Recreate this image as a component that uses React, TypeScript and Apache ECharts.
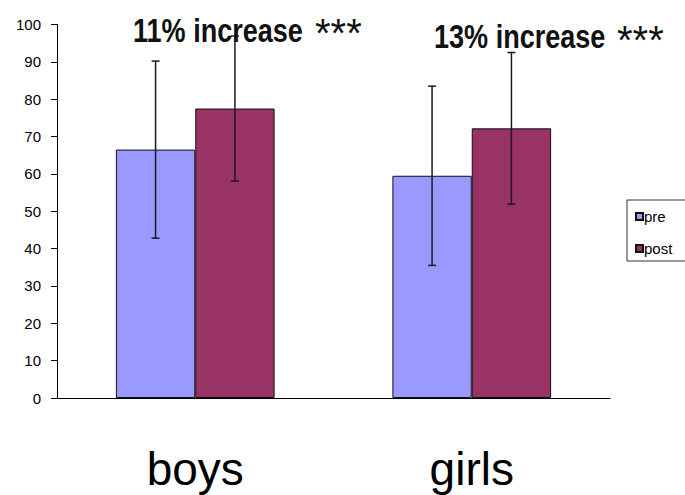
import React, { useEffect, useRef } from "react";
import * as echarts from "echarts";

const categories = ["boys", "girls"];
const preValues = [66.5, 59.5];
const postValues = [77.5, 72.2];
const preErr = [23.7, 24.0];
const postErr = [19.4, 20.3];
const annotations = ["11% increase", "13% increase"];
const stars = "***";
const yTicks = { min: 0, max: 100, interval: 10 };

const PRE_COLOR = "#9999FF";
const POST_COLOR = "#993366";
const CAT_GAP = 0.426;

function errorSeries(name: string, values: number[], errs: number[], side: number) {
  return {
    type: "custom",
    name: name + "-err",
    z: 5,
    data: values.map((v, i) => [i, v - errs[i], v + errs[i]]),
    renderItem: (params: any, api: any) => {
      const idx = api.value(0);
      const lo = api.coord([idx, api.value(1)]);
      const hi = api.coord([idx, api.value(2)]);
      const band = api.size([1, 0])[0];
      const barW = (band * (1 - CAT_GAP)) / 2;
      const x = lo[0] + (side * barW) / 2;
      const cap = 4;
      const style = { stroke: "#1a1a1a", lineWidth: 1.5 };
      return {
        type: "group",
        children: [
          { type: "line", shape: { x1: x, y1: lo[1], x2: x, y2: hi[1] }, style },
          { type: "line", shape: { x1: x - cap, y1: lo[1], x2: x + cap, y2: lo[1] }, style },
          { type: "line", shape: { x1: x - cap, y1: hi[1], x2: x + cap, y2: hi[1] }, style },
        ],
      };
    },
  };
}

export default function App() {
  const ref = useRef<HTMLDivElement>(null);
  useEffect(() => {
    if (!ref.current) return;
    const chart = echarts.init(ref.current, null, { renderer: "svg" });
    const annFont = "bold 33px 'Liberation Sans', Arial, sans-serif";
    const starFont = "40px 'Liberation Sans', Arial, sans-serif";
    chart.setOption({
      animation: false,
      backgroundColor: "#ffffff",
      grid: { left: 57, right: 75, top: 24.5, bottom: 97 },
      legend: {
        data: ["pre", "post"],
        orient: "vertical",
        left: 627,
        top: 200,
        itemWidth: 7,
        itemHeight: 7,
        itemGap: 17,
        icon: "rect",
        borderColor: "#333",
        borderWidth: 1,
        padding: [9, 30, 5, 8],
        textStyle: { fontSize: 15, color: "#000", fontFamily: "'Liberation Sans', Arial", padding: [0, 0, 0, -4] },
      },
      xAxis: {
        type: "category",
        data: categories,
        axisLine: { lineStyle: { color: "#000", width: 1 } },
        axisTick: { length: 12, lineStyle: { color: "#000" } },
        axisLabel: { fontSize: 46, color: "#000", margin: 48, fontFamily: "'Liberation Sans', Arial" },
      },
      yAxis: {
        type: "value",
        min: yTicks.min,
        max: yTicks.max,
        interval: yTicks.interval,
        splitLine: { show: false },
        axisLine: { show: true, lineStyle: { color: "#000", width: 1 } },
        axisTick: { show: true, length: 6, lineStyle: { color: "#000" } },
        axisLabel: { fontSize: 15, color: "#000", margin: 16, fontFamily: "'Liberation Sans', Arial" },
      },
      series: [
        {
          name: "pre",
          type: "bar",
          data: preValues,
          barGap: "0%",
          barCategoryGap: CAT_GAP * 100 + "%",
          itemStyle: { color: PRE_COLOR, borderColor: "#111", borderWidth: 1 },
        },
        {
          name: "post",
          type: "bar",
          data: postValues,
          itemStyle: { color: POST_COLOR, borderColor: "#111", borderWidth: 1 },
        },
        errorSeries("pre", preValues, preErr, -1),
        errorSeries("post", postValues, postErr, 1),
      ],
      graphic: [
        {
          type: "text", x: 133, y: 14, scaleX: 0.82, z: 10,
          style: { text: annotations[0], font: annFont, fill: "#111", align: "left", verticalAlign: "top" },
        },
        {
          type: "text", x: 315, y: 13, z: 10,
          style: { text: stars, font: starFont, fill: "#111", align: "left", verticalAlign: "top" },
        },
        {
          type: "text", x: 434, y: 20, scaleX: 0.82, z: 10,
          style: { text: annotations[1], font: annFont, fill: "#111", align: "left", verticalAlign: "top" },
        },
        {
          type: "text", x: 617, y: 20, z: 10,
          style: { text: stars, font: starFont, fill: "#111", align: "left", verticalAlign: "top" },
        },
      ],
    });
    return () => chart.dispose();
  }, []);
  return <div ref={ref} style={{ width: 685, height: 495, position: "absolute", left: 0, top: 0 }} />;
}
